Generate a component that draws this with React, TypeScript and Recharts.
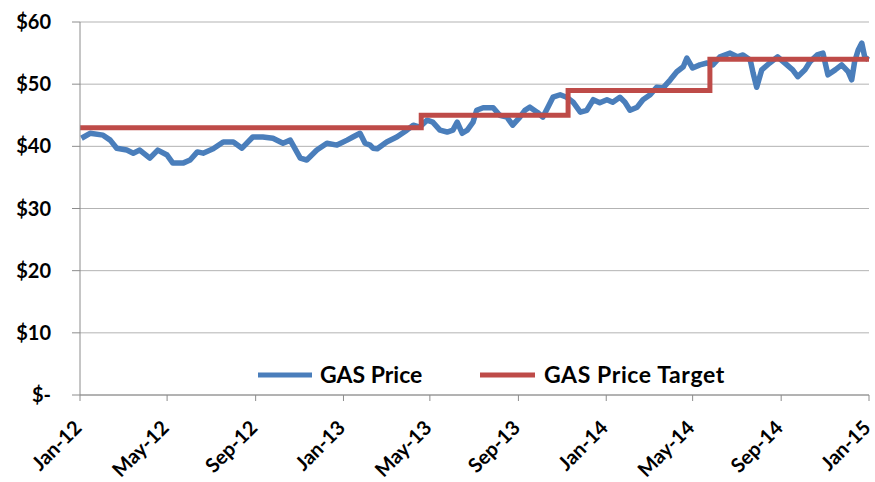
import { LineChart, Line, XAxis, YAxis, CartesianGrid, Legend } from "recharts";

// daily close of GAS
const priceDates = [
  "2012-01-03", "2012-01-15", "2012-02-02", "2012-02-12", "2012-02-21", "2012-03-06", "2012-03-15", "2012-03-24", "2012-04-07", "2012-04-18",
  "2012-05-01", "2012-05-09", "2012-05-23", "2012-06-02", "2012-06-12", "2012-06-20", "2012-07-04", "2012-07-18", "2012-08-01", "2012-08-13",
  "2012-08-28", "2012-09-11", "2012-09-25", "2012-10-09", "2012-10-19", "2012-11-02", "2012-11-11", "2012-11-25", "2012-12-09", "2012-12-23",
  "2013-01-06", "2013-01-14", "2013-01-24", "2013-01-31", "2013-02-07", "2013-02-11", "2013-02-17", "2013-03-02", "2013-03-16", "2013-03-30",
  "2013-04-08", "2013-04-17", "2013-04-27", "2013-05-05", "2013-05-15", "2013-05-25", "2013-06-02", "2013-06-08", "2013-06-15", "2013-06-22",
  "2013-06-30", "2013-07-05", "2013-07-14", "2013-07-28", "2013-08-06", "2013-08-16", "2013-08-24", "2013-09-03", "2013-09-10", "2013-09-17",
  "2013-09-27", "2013-10-05", "2013-10-12", "2013-10-19", "2013-10-29", "2013-11-07", "2013-11-16", "2013-11-26", "2013-12-05", "2013-12-14",
  "2013-12-23",
  "2014-01-02", "2014-01-10", "2014-01-20", "2014-01-27", "2014-02-03", "2014-02-13", "2014-02-21", "2014-03-03", "2014-03-12", "2014-03-21",
  "2014-03-31", "2014-04-09", "2014-04-18", "2014-04-23", "2014-05-01", "2014-05-11", "2014-05-21", "2014-05-29", "2014-06-08", "2014-06-22",
  "2014-07-02", "2014-07-10", "2014-07-20", "2014-07-24", "2014-07-29", "2014-08-05", "2014-08-16", "2014-08-27", "2014-09-09", "2014-09-17",
  "2014-09-24", "2014-10-04", "2014-10-11", "2014-10-21", "2014-10-29", "2014-11-05", "2014-11-15", "2014-11-24", "2014-12-03", "2014-12-08",
  "2014-12-12", "2014-12-17", "2014-12-22", "2014-12-26", "2014-12-31",
];
const priceValues = [
  41.3, 42.1, 41.8, 41.0, 39.7, 39.4, 38.9, 39.4, 38.1, 39.4,
  38.6, 37.3, 37.3, 37.8, 39.1, 38.9, 39.6, 40.7, 40.7, 39.7,
  41.5, 41.5, 41.3, 40.5, 41.0, 38.1, 37.8, 39.4, 40.5, 40.2,
  41.0, 41.5, 42.1, 40.5, 40.2, 39.7, 39.6, 40.7, 41.5, 42.6,
  43.4, 43.1, 44.2, 43.9, 42.6, 42.3, 42.6, 43.9, 42.1, 42.6,
  43.9, 45.8, 46.2, 46.2, 45.0, 44.7, 43.4, 44.7, 45.8, 46.3,
  45.5, 44.7, 46.3, 47.9, 48.3, 47.9, 47.1, 45.5, 45.8, 47.5,
  47.0,
  47.5, 47.1, 47.9, 47.1, 45.8, 46.3, 47.5, 48.3, 49.5, 49.4,
  50.7, 52.0, 52.8, 54.2, 52.6, 53.1, 53.4, 53.1, 54.4, 55.0,
  54.4, 54.7, 53.9, 51.8, 49.5, 52.3, 53.4, 54.4, 53.1, 52.3,
  51.2, 52.3, 53.6, 54.7, 55.0, 51.5, 52.3, 53.1, 52.0, 50.7,
  53.6, 55.5, 56.6, 54.4, 53.9,
];

// analyst price target, changes on these dates
const targetDates = ["2012-01-01", "2013-04-19", "2013-11-09", "2014-05-25", "2015-01-01"];
const targetValues = [43, 45, 49, 54, 54];

const tickDates = [
  "2012-01-01", "2012-05-01", "2012-09-01", "2013-01-01", "2013-05-01",
  "2013-09-01", "2014-01-01", "2014-05-01", "2014-09-01", "2015-01-01",
];
const yTicks = [0, 10, 20, 30, 40, 50, 60];
const months = ["Jan", "Feb", "Mar", "Apr", "May", "Jun", "Jul", "Aug", "Sep", "Oct", "Nov", "Dec"];

const toTime = (d: string) => Date.parse(d + "T00:00:00Z");

const priceData = priceDates.map((d, i) => ({ t: toTime(d), v: priceValues[i] }));
const targetData = targetDates.map((d, i) => ({ t: toTime(d), v: targetValues[i] }));
const xTicks = tickDates.map(toTime);

const BLUE = "#4A7EBB";
const RED = "#BE4B48";
const FONT = "Lato, 'Open Sans', sans-serif";

const fmtDate = (t: number) => {
  const d = new Date(t);
  return `${months[d.getUTCMonth()]}-${String(d.getUTCFullYear()).slice(2)}`;
};

const DateTick = ({ x, y, payload }: any) => (
  <g transform={`translate(${x + 3},${y + 26})`}>
    <text
      textAnchor="end"
      transform="rotate(-45)"
      fontFamily={FONT}
      fontWeight="bold"
      fontSize={20}
      fill="#000"
    >
      {fmtDate(payload.value)}
    </text>
  </g>
);

const LegendBox = () => (
  <svg width={500} height={30}>
    <line x1={5} y1={14} x2={59} y2={14} stroke={BLUE} strokeWidth={5} />
    <text x={67} y={22} fontFamily={FONT} fontWeight="bold" fontSize={23} fill="#000">
      GAS Price
    </text>
    <line x1={227} y1={14} x2={282} y2={14} stroke={RED} strokeWidth={5} />
    <text x={291} y={22} fontFamily={FONT} fontWeight="bold" fontSize={23} letterSpacing={0.6} fill="#000">
      GAS Price Target
    </text>
  </svg>
);

export default function App() {
  return (
    <div style={{ position: "absolute", left: 0, top: 0 }}>
      <LineChart width={875} height={482} margin={{ top: 22, right: 6, left: 0, bottom: 0 }}>
        <CartesianGrid vertical={false} stroke="#b3b3b3" />
        <XAxis
          dataKey="t"
          type="number"
          domain={[xTicks[0], xTicks[xTicks.length - 1]]}
          ticks={xTicks}
          interval={0}
          height={87}
          tickSize={6}
          axisLine={{ stroke: "#8c8c8c" }}
          tickLine={{ stroke: "#8c8c8c" }}
          tick={<DateTick />}
        />
        <YAxis
          domain={[0, 60]}
          ticks={yTicks}
          width={80}
          tickSize={8}
          tickMargin={21}
          axisLine={{ stroke: "#8c8c8c" }}
          tickLine={{ stroke: "#8c8c8c" }}
          tickFormatter={(v: number) => (v === 0 ? "$-" : `$${v}`)}
          tick={{ fontFamily: FONT, fontWeight: "bold", fontSize: 20, fill: "#000" }}
        />
        <Legend
          layout="horizontal"
          verticalAlign="middle"
          align="center"
          wrapperStyle={{ top: 361, left: 253, width: 500 }}
          content={() => <LegendBox />}
        />
        <Line
          data={priceData}
          dataKey="v"
          name="GAS Price"
          type="linear"
          stroke={BLUE}
          strokeWidth={5.5}
          strokeLinejoin="round"
          dot={false}
          isAnimationActive={false}
        />
        <Line
          data={targetData}
          dataKey="v"
          name="GAS Price Target"
          type="stepAfter"
          stroke={RED}
          strokeWidth={5}
          dot={false}
          isAnimationActive={false}
        />
      </LineChart>
    </div>
  );
}
